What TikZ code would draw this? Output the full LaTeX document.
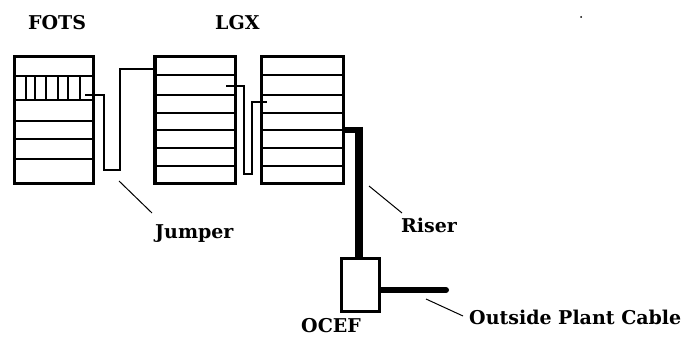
\documentclass[tikz,border=0pt]{standalone}
\usepackage{fontspec}
\setmainfont{DejaVu Serif}
\tikzset{
  x=1pt,y=-1pt,
  rack/.style={draw,line width=3.4pt,fill=white,minimum width=#1,inner sep=0pt,outer sep=0pt,anchor=north west,rectangle},
  thin line/.style={line width=1.6pt,line join=miter},
  wire/.style={line width=1.4pt,line join=miter},
  lead/.style={line width=1pt},
  lbl/.style={font=\fontsize{19}{19}\selectfont\bfseries,inner sep=0pt,anchor=base west},
}
\begin{document}
\begin{tikzpicture}
\useasboundingbox[fill=white] (0,0) rectangle (681,337);
% racks
\node[rack=78.6pt,minimum height=126.6pt] (fots) at (14.7,56.7) {};
\node[rack=80.3pt,minimum height=126.6pt] (lgxa) at (155,56.7) {};
\node[rack=82pt,minimum height=126.6pt] (lgxb) at (261.3,56.7) {};
\foreach \y in {76,100,121,139,159}
  \draw[thin line] (15,\y) -- (93,\y);
\foreach \x in {26,35,46,58,68,80}
  \draw[thin line] (\x,76) -- (\x,100);
\foreach \y in {75,95,113,130,148,166}{
  \draw[thin line] (155,\y) -- (235,\y);
  \draw[thin line] (262,\y) -- (343,\y);
}
% jumpers
\coordinate (j1a) at (85,95);
\coordinate (j2a) at (226,86);
\coordinate (j2b) at (267,102);
\draw[wire] (j1a) -- (104,95) -- (104,170) -- (120,170) -- (120,69) -- (155,69);
\draw[wire] (j2a) -- (244,86) -- (244,174) -- (252,174) -- (252,102) -- (j2b);
% OCEF
\node[rack=38pt,minimum height=53pt] (ocef) at (341.5,258.5) {};
% heavy cables
\draw[line width=6pt] (343,130) -- (363,130);
\draw[line width=8pt] (359,127) -- (359,258.5);
\coordinate (cend) at (446,290);
\draw[line width=6pt] (ocef.east |- cend) -- (cend);
\fill (cend) circle (3);
% labels
\node[lbl] (tfots) at (28,30) {FOTS};
\node[lbl] (tlgx) at (215,30) {LGX};
\node[lbl] (tjumper) at (155,238) {Jumper};
\node[lbl] (triser) at (401,232) {Riser};
\node[lbl] (tocef) at (301,332.5) {OCEF};
\node[lbl] (tcable) at (469,324) {Outside Plant Cable};
% leaders
\coordinate (l1) at (119,181);
\coordinate (l2) at (369,186);
\coordinate (l3) at (426,299);
\draw[lead] (l1) -- (152,213);
\draw[lead] (l2) -- (402,213);
\draw[lead] (l3) -- (463,316);
\fill (581,17) circle (1);
\end{tikzpicture}
\end{document}
